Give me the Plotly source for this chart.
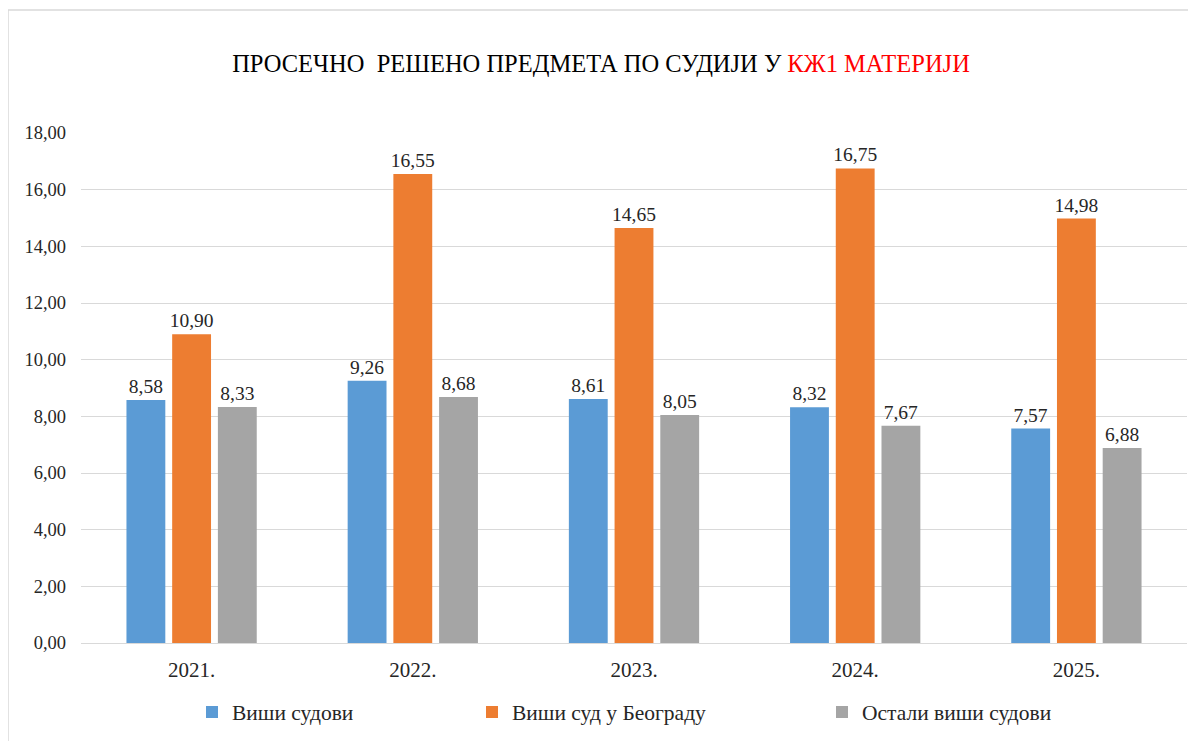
import plotly.graph_objects as go

years = ['2021.', '2022.', '2023.', '2024.', '2025.']
visi_sudovi = [8.58, 9.26, 8.61, 8.32, 7.57]
visi_sud_bg = [10.90, 16.55, 14.65, 16.75, 14.98]
ostali_visi = [8.33, 8.68, 8.05, 7.67, 6.88]

series_names = ['Виши судови', 'Виши суд у Београду', 'Остали виши судови']
colors = ['#5b9bd5', '#ed7d31', '#a5a5a5']
legend_ids = ['legend', 'legend2', 'legend3']

FONT = '"Times New Roman", "Liberation Serif", serif'

fig = go.Figure()
for name, vals, col, lg in zip(series_names, [visi_sudovi, visi_sud_bg, ostali_visi], colors, legend_ids):
    fig.add_trace(go.Bar(
        x=years, y=vals, name=name, legend=lg, showlegend=True,
        marker=dict(color=col, line=dict(width=0)),
        texttemplate='%{y:.2f}', textposition='outside', constraintext='none',
        textfont=dict(family=FONT, size=19.5, color='#262626'),
        cliponaxis=False,
    ))

# page body has an 8px margin, so screen positions are shifted by 8
OFF = 8
# plot area on screen: left 81, right 1187, top 133, bottom 643
L, T = 81 - OFF, 133 - OFF
R, B = 1196 - (1187 - OFF), 741 - (643 - OFF)
pw, ph = 1196 - L - R, 741 - T - B

def px_x(p):
    return (p - OFF - L) / pw

def px_y(p):
    return (741 - B - (p - OFF)) / ph

legend_style = dict(orientation='h', yanchor='middle', xanchor='left',
                    font=dict(family=FONT, size=21.5, color='#262626'),
                    bgcolor='rgba(0,0,0,0)', y=px_y(712))

fig.update_layout(
    width=1196, height=741,
    margin=dict(l=L, r=R, t=T, b=B),
    paper_bgcolor='white', plot_bgcolor='white',
    separators=',.',
    barmode='group', bargap=0.38, bargroupgap=0.15,
    showlegend=True,
    title=dict(
        text='ПРОСЕЧНО  РЕШЕНО ПРЕДМЕТА ПО СУДИЈИ У <span style="color:#ff0000">КЖ1 МАТЕРИЈИ</span>',
        x=px_x(601), xref='paper', xanchor='center', y=1 - (63 - OFF) / 741, yanchor='middle',
        font=dict(family=FONT, size=24.5, color='black'),
    ),
    font=dict(family=FONT),
    legend=dict(legend_style, x=px_x(192)),
    legend2=dict(legend_style, x=px_x(472)),
    legend3=dict(legend_style, x=px_x(822)),
    shapes=[dict(type='rect', xref='paper', yref='paper',
                 x0=px_x(8), x1=px_x(1215), y0=px_y(760), y1=px_y(10),
                 line=dict(color='#d9d9d9', width=1.5), fillcolor='rgba(0,0,0,0)',
                 layer='below')],
)

fig.update_yaxes(range=[0, 18], dtick=2, tickformat='.2f',
                 showgrid=True, gridcolor='#d9d9d9', gridwidth=1,
                 zeroline=False, showline=False, ticks='', ticklabelstandoff=14,
                 tickfont=dict(family=FONT, size=18.5, color='#262626'))
fig.update_xaxes(showline=True, linecolor='#d9d9d9', linewidth=1, ticks='', ticklabelstandoff=8,
                 tickfont=dict(family=FONT, size=21, color='#262626'))

fig.write_html('out.html')
